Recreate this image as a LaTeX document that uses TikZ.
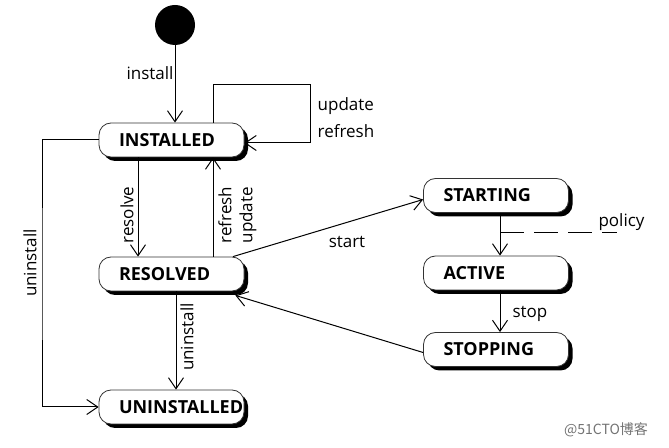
\documentclass[tikz,border=0pt]{standalone}
\usepackage{fontspec}
\setmainfont{Open Sans}
\newfontfamily\cjkfont{Noto Sans CJK SC}
\usepackage{tikz}
\usetikzlibrary{arrows.meta, positioning, shadows}

\begin{document}
\begin{tikzpicture}[x=0.5pt, y=-0.5pt,
    state/.style={draw=black!80, fill=white, rounded corners=6pt,
        minimum height=17pt, text width=52.5pt, inner xsep=10pt, align=left,
        font=\bfseries\fontsize{9}{10}\selectfont,
        drop shadow={shadow xshift=2pt, shadow yshift=-2pt, fill=black, opacity=1}},
    lbl/.style={font=\fontsize{8.5}{13.5}\selectfont, inner sep=1pt},
    trans/.style={-{Straight Barb[length=5.5pt, width=7.5pt]}, line width=0.5pt}]
    \useasboundingbox (0,0) rectangle (669,448);

    \node[circle, fill=black, minimum size=20pt, inner sep=0pt] (init) at (175,25) {};
    \node[state] (installed) at (171.5,140) {INSTALLED};
    \node[state] (resolved) at (171.5,274) {RESOLVED};
    \node[state] (uninstalled) at (171.5,407) {UNINSTALLED};
    \node[state] (starting) at (496,195.5) {STARTING};
    \node[state] (active) at (496,273) {ACTIVE};
    \node[state] (stopping) at (496,349.5) {STOPPING};

    \coordinate (loopcorner) at (310,85);
    \coordinate (leftrail) at (42,275);
    \coordinate (policyA) at (500,233);
    \coordinate (policyB) at (617,233);

    % installed
    \draw[trans] (init.south) -- (init.south |- installed.north);
    \draw[trans] ([xshift=20.75pt]installed.north) |- (loopcorner) |- ([yshift=-1.5pt]installed.east);
    \draw[trans] ([xshift=-16.75pt]installed.south) -- ([xshift=-16.75pt]resolved.north);
    \draw[trans] ([xshift=20.75pt]resolved.north) -- ([xshift=20.75pt]installed.south);
    \draw[trans] (installed.west) -| (leftrail) |- (uninstalled.west);
    % resolved
    \draw[trans] ([xshift=2.25pt]resolved.south) -- ([xshift=2.25pt]uninstalled.north);
    \draw[trans] ([xshift=30.75pt]resolved.north) -- ([yshift=-2pt]starting.west);
    \draw[trans] ([yshift=-1.5pt]stopping.west) -- ([xshift=-4.5pt,yshift=-2pt]resolved.south east);
    % active
    \draw[trans] ([xshift=2pt]starting.south) -- ([xshift=2pt]active.north);
    \draw[trans] ([xshift=2pt]active.south) -- ([xshift=2pt]stopping.north);
    \draw[line width=0.5pt, dash pattern=on 12pt off 5pt] (policyA) -- (policyB);

    \node[lbl] (linstall) at (150,73) {install};
    \node[lbl, align=left] (lupdate) at (346,117.5) {update\\refresh};
    \node[lbl, rotate=90] (lresolve) at (127,215) {resolve};
    \node[lbl, rotate=90, align=left, font=\fontsize{8.5}{10.5}\selectfont] (lrefresh) at (237.5,215) {refresh\\update};
    \node[lbl, rotate=90] (luninst) at (187,337) {uninstall};
    \node[lbl, rotate=90] (luninstL) at (30,263) {uninstall};
    \node[lbl] (lstart) at (347,242) {start};
    \node[lbl] (lpolicy) at (621.5,222) {policy};
    \node[lbl] (lstop) at (530,314) {stop};
    \node[font=\cjkfont\fontsize{7}{8}\selectfont, text=black!55] (mark) at (606,430) {@51CTO博客};
\end{tikzpicture}
\end{document}
